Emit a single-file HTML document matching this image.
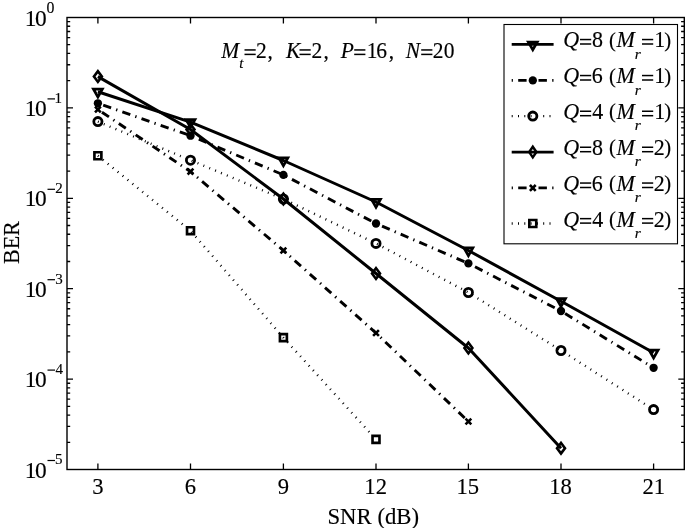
<!DOCTYPE html>
<html><head><meta charset="utf-8"><style>
html,body{margin:0;padding:0;background:#fff;width:685px;height:528px;overflow:hidden}
svg text{font-family:"Liberation Serif",serif;font-kerning:none;stroke:#000;stroke-width:0.15px;stroke-linejoin:round}
svg{will-change:transform}
</style></head><body>
<svg width="685" height="528" viewBox="0 0 685 528" style="position:absolute;left:0;top:0">
<rect width="685" height="528" fill="#fff"/>
<path d="M97.90,469.5V463.5M97.90,17.5V23.5M190.50,469.5V463.5M190.50,17.5V23.5M283.40,469.5V463.5M283.40,17.5V23.5M376.00,469.5V463.5M376.00,17.5V23.5M468.40,469.5V463.5M468.40,17.5V23.5M561.00,469.5V463.5M561.00,17.5V23.5M653.60,469.5V463.5M653.60,17.5V23.5M67.0,80.69H70.2M684.3,80.69H681.0999999999999M67.0,64.77H70.2M684.3,64.77H681.0999999999999M67.0,53.47H70.2M684.3,53.47H681.0999999999999M67.0,44.71H70.2M684.3,44.71H681.0999999999999M67.0,37.56H70.2M684.3,37.56H681.0999999999999M67.0,31.50H70.2M684.3,31.50H681.0999999999999M67.0,26.26H70.2M684.3,26.26H681.0999999999999M67.0,21.64H70.2M684.3,21.64H681.0999999999999M67.0,107.90H73.0M684.3,107.90H678.3M67.0,171.09H70.2M684.3,171.09H681.0999999999999M67.0,155.17H70.2M684.3,155.17H681.0999999999999M67.0,143.87H70.2M684.3,143.87H681.0999999999999M67.0,135.11H70.2M684.3,135.11H681.0999999999999M67.0,127.96H70.2M684.3,127.96H681.0999999999999M67.0,121.90H70.2M684.3,121.90H681.0999999999999M67.0,116.66H70.2M684.3,116.66H681.0999999999999M67.0,112.04H70.2M684.3,112.04H681.0999999999999M67.0,198.30H73.0M684.3,198.30H678.3M67.0,261.49H70.2M684.3,261.49H681.0999999999999M67.0,245.57H70.2M684.3,245.57H681.0999999999999M67.0,234.27H70.2M684.3,234.27H681.0999999999999M67.0,225.51H70.2M684.3,225.51H681.0999999999999M67.0,218.36H70.2M684.3,218.36H681.0999999999999M67.0,212.30H70.2M684.3,212.30H681.0999999999999M67.0,207.06H70.2M684.3,207.06H681.0999999999999M67.0,202.44H70.2M684.3,202.44H681.0999999999999M67.0,288.70H73.0M684.3,288.70H678.3M67.0,351.89H70.2M684.3,351.89H681.0999999999999M67.0,335.97H70.2M684.3,335.97H681.0999999999999M67.0,324.67H70.2M684.3,324.67H681.0999999999999M67.0,315.91H70.2M684.3,315.91H681.0999999999999M67.0,308.76H70.2M684.3,308.76H681.0999999999999M67.0,302.70H70.2M684.3,302.70H681.0999999999999M67.0,297.46H70.2M684.3,297.46H681.0999999999999M67.0,292.84H70.2M684.3,292.84H681.0999999999999M67.0,379.10H73.0M684.3,379.10H678.3M67.0,442.29H70.2M684.3,442.29H681.0999999999999M67.0,426.37H70.2M684.3,426.37H681.0999999999999M67.0,415.07H70.2M684.3,415.07H681.0999999999999M67.0,406.31H70.2M684.3,406.31H681.0999999999999M67.0,399.16H70.2M684.3,399.16H681.0999999999999M67.0,393.10H70.2M684.3,393.10H681.0999999999999M67.0,387.86H70.2M684.3,387.86H681.0999999999999M67.0,383.24H70.2M684.3,383.24H681.0999999999999" stroke="#000" stroke-width="1.3" fill="none"/>
<polyline points="97.90,121.60 190.50,160.20 283.40,199.00 376.00,243.40 468.40,292.50 561.00,350.50 653.60,409.60" fill="none" stroke="#000" stroke-width="2.4" stroke-linejoin="round" stroke-dasharray="0.95 5.4" stroke-dashoffset="0"/>
<polyline points="97.90,155.75 190.50,230.70 283.40,337.60 376.00,439.40" fill="none" stroke="#000" stroke-width="2.4" stroke-linejoin="round" stroke-dasharray="0.95 5.4" stroke-dashoffset="0"/>
<polyline points="97.90,103.30 190.50,135.70 283.40,174.90 376.00,223.50 468.40,263.40 561.00,311.00 653.60,367.80" fill="none" stroke="#000" stroke-width="2.9" stroke-linejoin="round" stroke-dasharray="8.4 5.3 1.3 5.3" stroke-dashoffset="14.7"/>
<polyline points="97.90,109.50 190.50,171.60 283.40,250.50 376.00,333.00 468.40,421.50" fill="none" stroke="#000" stroke-width="2.9" stroke-linejoin="round" stroke-dasharray="8.4 5.3 1.3 5.3" stroke-dashoffset="15.4"/>
<polyline points="97.90,91.80 190.50,122.10 283.40,160.50 376.00,202.00 468.40,250.50 561.00,301.20 653.60,352.80" fill="none" stroke="#000" stroke-width="3.0" stroke-linejoin="round"/>
<polyline points="97.90,76.60 190.50,129.50 283.40,199.00 376.00,273.50 468.40,348.00 561.00,448.20" fill="none" stroke="#000" stroke-width="3.0" stroke-linejoin="round"/>
<path d="M93.10,150.95h9.6v9.6h-9.6ZM95.75,153.60h4.3v4.3h-4.3Z" fill="#000" fill-rule="evenodd"/>
<path d="M185.70,225.90h9.6v9.6h-9.6ZM188.35,228.55h4.3v4.3h-4.3Z" fill="#000" fill-rule="evenodd"/>
<path d="M278.60,332.80h9.6v9.6h-9.6ZM281.25,335.45h4.3v4.3h-4.3Z" fill="#000" fill-rule="evenodd"/>
<path d="M371.20,434.60h9.6v9.6h-9.6ZM373.85,437.25h4.3v4.3h-4.3Z" fill="#000" fill-rule="evenodd"/>
<path d="M95.00,106.60L100.80,112.40M100.80,106.60L95.00,112.40" stroke="#000" stroke-width="2.6" fill="none"/>
<path d="M187.60,168.70L193.40,174.50M193.40,168.70L187.60,174.50" stroke="#000" stroke-width="2.6" fill="none"/>
<path d="M280.50,247.60L286.30,253.40M286.30,247.60L280.50,253.40" stroke="#000" stroke-width="2.6" fill="none"/>
<path d="M373.10,330.10L378.90,335.90M378.90,330.10L373.10,335.90" stroke="#000" stroke-width="2.6" fill="none"/>
<path d="M465.50,418.60L471.30,424.40M471.30,418.60L465.50,424.40" stroke="#000" stroke-width="2.6" fill="none"/>
<path d="M97.90,69.10L103.50,76.60L97.90,84.10L92.30,76.60ZM97.90,73.45L100.25,76.60L97.90,79.75L95.55,76.60Z" fill="#000" fill-rule="evenodd"/>
<path d="M190.50,122.00L196.10,129.50L190.50,137.00L184.90,129.50ZM190.50,126.35L192.85,129.50L190.50,132.65L188.15,129.50Z" fill="#000" fill-rule="evenodd"/>
<path d="M283.40,191.50L289.00,199.00L283.40,206.50L277.80,199.00ZM283.40,195.85L285.75,199.00L283.40,202.15L281.05,199.00Z" fill="#000" fill-rule="evenodd"/>
<path d="M376.00,266.00L381.60,273.50L376.00,281.00L370.40,273.50ZM376.00,270.35L378.35,273.50L376.00,276.65L373.65,273.50Z" fill="#000" fill-rule="evenodd"/>
<path d="M468.40,340.50L474.00,348.00L468.40,355.50L462.80,348.00ZM468.40,344.85L470.75,348.00L468.40,351.15L466.05,348.00Z" fill="#000" fill-rule="evenodd"/>
<path d="M561.00,440.70L566.60,448.20L561.00,455.70L555.40,448.20ZM561.00,445.05L563.35,448.20L561.00,451.35L558.65,448.20Z" fill="#000" fill-rule="evenodd"/>
<circle cx="97.90" cy="121.60" r="4.1" fill="none" stroke="#000" stroke-width="2.8"/>
<circle cx="190.50" cy="160.20" r="4.1" fill="none" stroke="#000" stroke-width="2.8"/>
<circle cx="283.40" cy="199.00" r="4.1" fill="none" stroke="#000" stroke-width="2.8"/>
<circle cx="376.00" cy="243.40" r="4.1" fill="none" stroke="#000" stroke-width="2.8"/>
<circle cx="468.40" cy="292.50" r="4.1" fill="none" stroke="#000" stroke-width="2.8"/>
<circle cx="561.00" cy="350.50" r="4.1" fill="none" stroke="#000" stroke-width="2.8"/>
<circle cx="653.60" cy="409.60" r="4.1" fill="none" stroke="#000" stroke-width="2.8"/>
<circle cx="97.90" cy="103.30" r="4.15" fill="#000"/>
<circle cx="190.50" cy="135.70" r="4.15" fill="#000"/>
<circle cx="283.40" cy="174.90" r="4.15" fill="#000"/>
<circle cx="376.00" cy="223.50" r="4.15" fill="#000"/>
<circle cx="468.40" cy="263.40" r="4.15" fill="#000"/>
<circle cx="561.00" cy="311.00" r="4.15" fill="#000"/>
<circle cx="653.60" cy="367.80" r="4.15" fill="#000"/>
<path d="M91.10,87.83L104.70,87.83L97.90,99.73ZM95.86,90.61L99.94,90.61L97.90,94.18Z" fill="#000" fill-rule="evenodd"/>
<path d="M183.70,118.13L197.30,118.13L190.50,130.03ZM188.46,120.91L192.54,120.91L190.50,124.48Z" fill="#000" fill-rule="evenodd"/>
<path d="M276.60,156.53L290.20,156.53L283.40,168.43ZM281.36,159.31L285.44,159.31L283.40,162.88Z" fill="#000" fill-rule="evenodd"/>
<path d="M369.20,198.03L382.80,198.03L376.00,209.93ZM373.96,200.81L378.04,200.81L376.00,204.38Z" fill="#000" fill-rule="evenodd"/>
<path d="M461.60,246.53L475.20,246.53L468.40,258.43ZM466.36,249.31L470.44,249.31L468.40,252.88Z" fill="#000" fill-rule="evenodd"/>
<path d="M554.20,297.23L567.80,297.23L561.00,309.13ZM558.96,300.01L563.04,300.01L561.00,303.58Z" fill="#000" fill-rule="evenodd"/>
<path d="M646.80,348.83L660.40,348.83L653.60,360.73ZM651.56,351.61L655.64,351.61L653.60,355.18Z" fill="#000" fill-rule="evenodd"/>
<rect x="67.0" y="17.5" width="617.30" height="452.00" fill="none" stroke="#000" stroke-width="1.4"/>
<rect x="504.0" y="24.5" width="173.5" height="219.30" fill="#fff" stroke="#000" stroke-width="1.1"/>
<line x1="511.7" y1="44.40" x2="553.6" y2="44.40" stroke="#000" stroke-width="2.9"/>
<path d="M526.00,40.83L539.60,40.83L532.80,52.43ZM530.76,43.54L534.84,43.54L532.80,47.02Z" fill="#000" fill-rule="evenodd"/>
<line x1="511.7" y1="80.40" x2="553.6" y2="80.40" stroke="#000" stroke-width="2.9" stroke-dasharray="8.4 5.3 1.3 5.3" stroke-dashoffset="13.8"/>
<circle cx="532.80" cy="80.40" r="4.15" fill="#000"/>
<line x1="511.7" y1="116.10" x2="553.6" y2="116.10" stroke="#000" stroke-width="2.4" stroke-dasharray="1.0 5.3"/>
<circle cx="532.80" cy="116.10" r="4.1" fill="none" stroke="#000" stroke-width="2.8"/>
<line x1="511.7" y1="152.10" x2="553.6" y2="152.10" stroke="#000" stroke-width="2.9"/>
<path d="M532.80,144.60L537.90,152.10L532.80,159.60L527.70,152.10ZM532.80,148.95L534.94,152.10L532.80,155.25L530.66,152.10Z" fill="#000" fill-rule="evenodd"/>
<line x1="511.7" y1="187.90" x2="553.6" y2="187.90" stroke="#000" stroke-width="2.9" stroke-dasharray="8.4 5.3 1.3 5.3" stroke-dashoffset="13.8"/>
<path d="M529.90,185.00L535.70,190.80M535.70,185.00L529.90,190.80" stroke="#000" stroke-width="2.6" fill="none"/>
<line x1="511.7" y1="223.50" x2="553.6" y2="223.50" stroke="#000" stroke-width="2.4" stroke-dasharray="1.0 5.3"/>
<path d="M528.00,218.70h9.6v9.6h-9.6ZM530.65,221.35h4.3v4.3h-4.3Z" fill="#000" fill-rule="evenodd"/>
<g fill="#000">
<text transform="translate(563.19,47.40) scale(1.0000,1.0500)" font-size="22" font-style="italic">Q</text>
<rect x="580.00" y="38.80" width="11.2" height="1.5"/><rect x="580.00" y="43.25" width="11.2" height="1.5"/>
<text transform="translate(591.96,47.40) scale(1.0000,1.0500)" font-size="22">8</text>
<text transform="translate(608.89,46.60)" font-size="20.7">(</text>
<text transform="translate(616.56,47.40) scale(1.0000,1.0500)" font-size="22" font-style="italic">M</text>
<text transform="translate(634.67,58.60)" font-size="15.5" font-style="italic">r</text>
<rect x="642.00" y="38.80" width="11.2" height="1.5"/><rect x="642.00" y="43.25" width="11.2" height="1.5"/>
<text transform="translate(654.17,47.40) scale(1.0000,1.0500)" font-size="22">1</text>
<text transform="translate(664.33,46.60)" font-size="20.7">)</text>
<text transform="translate(563.19,83.40) scale(1.0000,1.0500)" font-size="22" font-style="italic">Q</text>
<rect x="580.00" y="74.80" width="11.2" height="1.5"/><rect x="580.00" y="79.25" width="11.2" height="1.5"/>
<text transform="translate(591.85,83.40) scale(1.0000,1.0500)" font-size="22">6</text>
<text transform="translate(608.89,82.60)" font-size="20.7">(</text>
<text transform="translate(616.56,83.40) scale(1.0000,1.0500)" font-size="22" font-style="italic">M</text>
<text transform="translate(634.67,94.60)" font-size="15.5" font-style="italic">r</text>
<rect x="642.00" y="74.80" width="11.2" height="1.5"/><rect x="642.00" y="79.25" width="11.2" height="1.5"/>
<text transform="translate(654.17,83.40) scale(1.0000,1.0500)" font-size="22">1</text>
<text transform="translate(664.33,82.60)" font-size="20.7">)</text>
<text transform="translate(563.19,119.10) scale(1.0000,1.0500)" font-size="22" font-style="italic">Q</text>
<rect x="580.00" y="110.50" width="11.2" height="1.5"/><rect x="580.00" y="114.95" width="11.2" height="1.5"/>
<text transform="translate(592.37,119.10) scale(1.0000,1.0500)" font-size="22">4</text>
<text transform="translate(608.89,118.30)" font-size="20.7">(</text>
<text transform="translate(616.56,119.10) scale(1.0000,1.0500)" font-size="22" font-style="italic">M</text>
<text transform="translate(634.67,130.30)" font-size="15.5" font-style="italic">r</text>
<rect x="642.00" y="110.50" width="11.2" height="1.5"/><rect x="642.00" y="114.95" width="11.2" height="1.5"/>
<text transform="translate(654.17,119.10) scale(1.0000,1.0500)" font-size="22">1</text>
<text transform="translate(664.33,118.30)" font-size="20.7">)</text>
<text transform="translate(563.19,155.10) scale(1.0000,1.0500)" font-size="22" font-style="italic">Q</text>
<rect x="580.00" y="146.50" width="11.2" height="1.5"/><rect x="580.00" y="150.95" width="11.2" height="1.5"/>
<text transform="translate(591.96,155.10) scale(1.0000,1.0500)" font-size="22">8</text>
<text transform="translate(608.89,154.30)" font-size="20.7">(</text>
<text transform="translate(616.56,155.10) scale(1.0000,1.0500)" font-size="22" font-style="italic">M</text>
<text transform="translate(634.67,166.30)" font-size="15.5" font-style="italic">r</text>
<rect x="642.00" y="146.50" width="11.2" height="1.5"/><rect x="642.00" y="150.95" width="11.2" height="1.5"/>
<text transform="translate(653.63,155.10) scale(1.0000,1.0500)" font-size="22">2</text>
<text transform="translate(664.33,154.30)" font-size="20.7">)</text>
<text transform="translate(563.19,190.90) scale(1.0000,1.0500)" font-size="22" font-style="italic">Q</text>
<rect x="580.00" y="182.30" width="11.2" height="1.5"/><rect x="580.00" y="186.75" width="11.2" height="1.5"/>
<text transform="translate(591.85,190.90) scale(1.0000,1.0500)" font-size="22">6</text>
<text transform="translate(608.89,190.10)" font-size="20.7">(</text>
<text transform="translate(616.56,190.90) scale(1.0000,1.0500)" font-size="22" font-style="italic">M</text>
<text transform="translate(634.67,202.10)" font-size="15.5" font-style="italic">r</text>
<rect x="642.00" y="182.30" width="11.2" height="1.5"/><rect x="642.00" y="186.75" width="11.2" height="1.5"/>
<text transform="translate(653.63,190.90) scale(1.0000,1.0500)" font-size="22">2</text>
<text transform="translate(664.33,190.10)" font-size="20.7">)</text>
<text transform="translate(563.19,226.50) scale(1.0000,1.0500)" font-size="22" font-style="italic">Q</text>
<rect x="580.00" y="217.90" width="11.2" height="1.5"/><rect x="580.00" y="222.35" width="11.2" height="1.5"/>
<text transform="translate(592.37,226.50) scale(1.0000,1.0500)" font-size="22">4</text>
<text transform="translate(608.89,225.70)" font-size="20.7">(</text>
<text transform="translate(616.56,226.50) scale(1.0000,1.0500)" font-size="22" font-style="italic">M</text>
<text transform="translate(634.67,237.70)" font-size="15.5" font-style="italic">r</text>
<rect x="642.00" y="217.90" width="11.2" height="1.5"/><rect x="642.00" y="222.35" width="11.2" height="1.5"/>
<text transform="translate(653.63,226.50) scale(1.0000,1.0500)" font-size="22">2</text>
<text transform="translate(664.33,225.70)" font-size="20.7">)</text>
<text transform="translate(221.35,57.80) scale(1.0000,1.0500)" font-size="21.5" font-style="italic">M</text>
<text transform="translate(239.24,68.40)" font-size="15" font-style="italic">t</text>
<rect x="244.50" y="49.20" width="11.2" height="1.5"/><rect x="244.50" y="53.65" width="11.2" height="1.5"/>
<text transform="translate(256.06,57.80) scale(1.0000,1.0500)" font-size="21.5">2</text>
<text transform="translate(267.48,57.80) scale(1.0000,1.0500)" font-size="21.5">,</text>
<rect x="299.50" y="49.20" width="11.2" height="1.5"/><rect x="299.50" y="53.65" width="11.2" height="1.5"/>
<text transform="translate(311.46,57.80) scale(1.0000,1.0500)" font-size="21.5">2</text>
<text transform="translate(323.38,57.80) scale(1.0000,1.0500)" font-size="21.5">,</text>
<rect x="354.20" y="49.20" width="11.2" height="1.5"/><rect x="354.20" y="53.65" width="11.2" height="1.5"/>
<text transform="translate(366.81,57.80) scale(1.0000,1.0500)" font-size="21.5">1</text>
<text transform="translate(376.28,57.80) scale(1.0000,1.0500)" font-size="21.5">6</text>
<text transform="translate(388.78,57.80) scale(1.0000,1.0500)" font-size="21.5">,</text>
<rect x="421.20" y="49.20" width="11.2" height="1.5"/><rect x="421.20" y="53.65" width="11.2" height="1.5"/>
<text transform="translate(432.66,57.80) scale(1.0000,1.0500)" font-size="21.5">2</text>
<text transform="translate(443.68,57.80) scale(1.0000,1.0500)" font-size="21.5">0</text>
<text transform="translate(285.95,57.80) scale(1.0000,1.0500)" font-size="21.5" font-style="italic">K</text>
<text transform="translate(340.82,57.80) scale(1.0000,1.0500)" font-size="21.5" font-style="italic">P</text>
<text transform="translate(405.76,57.80) scale(1.0000,1.0500)" font-size="21.5" font-style="italic">N</text>
<text transform="translate(24.64,25.60)" font-size="23.4">1</text>
<text transform="translate(34.91,25.60)" font-size="23.4">0</text>
<text transform="translate(46.40,12.70)" font-size="15.8">0</text>
<text transform="translate(24.64,116.00)" font-size="23.4">1</text>
<text transform="translate(34.91,116.00)" font-size="23.4">0</text>
<rect x="47.5" y="98.30" width="7.5" height="1.2"/>
<text transform="translate(54.58,102.80)" font-size="15">1</text>
<text transform="translate(24.64,206.40)" font-size="23.4">1</text>
<text transform="translate(34.91,206.40)" font-size="23.4">0</text>
<rect x="47.5" y="188.70" width="7.5" height="1.2"/>
<text transform="translate(55.24,193.20)" font-size="15">2</text>
<text transform="translate(24.64,296.80)" font-size="23.4">1</text>
<text transform="translate(34.91,296.80)" font-size="23.4">0</text>
<rect x="47.5" y="279.10" width="7.5" height="1.2"/>
<text transform="translate(55.18,283.60)" font-size="15">3</text>
<text transform="translate(24.64,387.20)" font-size="23.4">1</text>
<text transform="translate(34.91,387.20)" font-size="23.4">0</text>
<rect x="47.5" y="369.50" width="7.5" height="1.2"/>
<text transform="translate(55.61,374.00)" font-size="15">4</text>
<text transform="translate(24.64,477.60)" font-size="23.4">1</text>
<text transform="translate(34.91,477.60)" font-size="23.4">0</text>
<rect x="47.5" y="459.90" width="7.5" height="1.2"/>
<text transform="translate(55.03,464.40)" font-size="15">5</text>
<text transform="translate(92.15,493.70)" font-size="22.6">3</text>
<text transform="translate(184.70,493.70)" font-size="22.6">6</text>
<text transform="translate(277.85,493.70)" font-size="22.6">9</text>
<text transform="translate(364.33,493.70)" font-size="22.6">12</text>
<text transform="translate(456.55,493.70)" font-size="22.6">15</text>
<text transform="translate(549.14,493.70)" font-size="22.6">18</text>
<text transform="translate(642.48,493.70)" font-size="22.6">21</text>
<text transform="translate(327.48,523.60) scale(1.0064,1.0000)" font-size="22.6">SNR (dB)</text>
<text transform="translate(18.75,264.03) rotate(-90) scale(0.9741,1)" font-size="22.6">BER</text>
</g>
</svg>
</body></html>
